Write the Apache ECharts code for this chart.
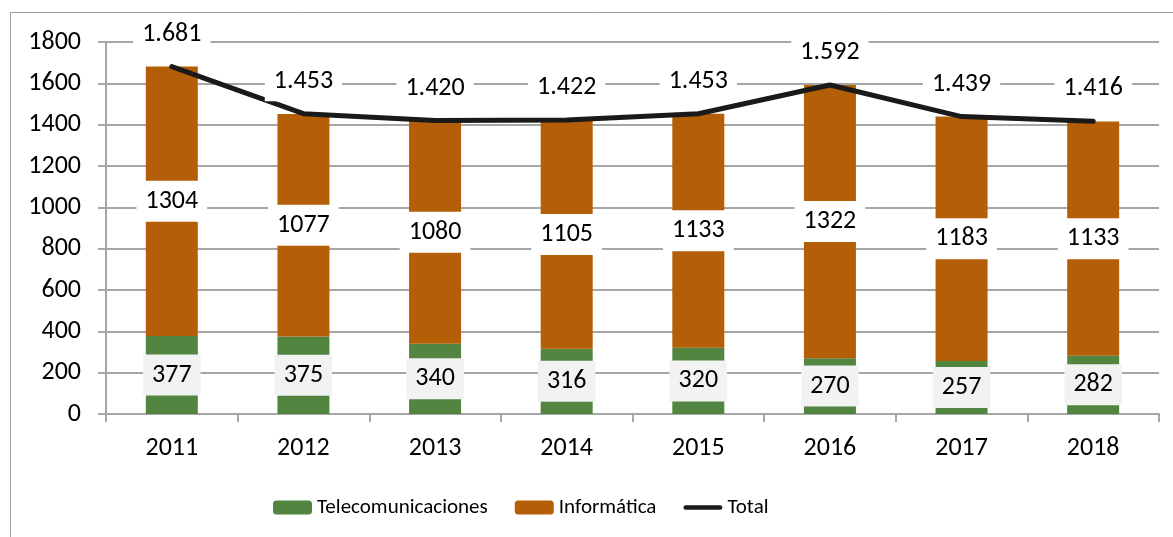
<!DOCTYPE html>
<html>
<head>
<meta charset="utf-8">
<script src="https://cdn.jsdelivr.net/npm/echarts@6/dist/echarts.min.js"></script>
<style>
  html, body { margin: 0; padding: 0; background: #fff; }
  #chart { width: 1173px; height: 537px; }
</style>
</head>
<body>
<div id="chart"></div>
<script>
const years = ['2011', '2012', '2013', '2014', '2015', '2016', '2017', '2018'];
const telecom = [377, 375, 340, 316, 320, 270, 257, 282];
const informatica = [1304, 1077, 1080, 1105, 1133, 1322, 1183, 1133];
const total = [1681, 1453, 1420, 1422, 1453, 1592, 1439, 1416];
const yTicks = [0, 1800, 200];

const FONT = 'Carlito, Lato, sans-serif';
const TXT = '#000';
const NUM = 26;

function fmtThousands(v) {
  return String(v).replace(/\B(?=(\d{3})+(?!\d))/g, '.');
}

const chart = echarts.init(document.getElementById('chart'));
chart.setOption({
  animation: false,
  textStyle: { fontFamily: FONT },
  graphic: [{
    type: 'rect',
    shape: { x: 10.5, y: 12.5, width: 1300, height: 700 },
    style: { fill: 'none', stroke: '#a0a0a0', lineWidth: 1 },
    silent: true
  }],
  grid: { left: 106, right: 14, top: 42, bottom: 123 },
  legend: {
    left: 268,
    top: 492,
    itemWidth: 39,
    itemHeight: 14,
    itemGap: 27,
    textStyle: { fontFamily: FONT, fontSize: 21, color: TXT },
    data: [
      'Telecomunicaciones',
      'Informática',
      { name: 'Total', icon: 'path://M2.5,0 L39.5,0 A2.5,2.5 0 0 1 39.5,5 L2.5,5 A2.5,2.5 0 0 1 2.5,0 Z' }
    ]
  },
  xAxis: {
    type: 'category',
    data: years,
    boundaryGap: true,
    axisLine: { lineStyle: { color: '#a6a6a6', width: 2 } },
    axisTick: { show: true, length: 8, lineStyle: { color: '#a6a6a6', width: 2 } },
    axisLabel: { fontFamily: FONT, fontSize: NUM, color: TXT, margin: 21 }
  },
  yAxis: {
    type: 'value',
    min: yTicks[0],
    max: yTicks[1],
    interval: yTicks[2],
    axisLine: { show: true, lineStyle: { color: '#a6a6a6', width: 2 } },
    axisTick: { show: true, length: 8, lineStyle: { color: '#a6a6a6', width: 2 } },
    splitLine: { lineStyle: { color: '#a6a6a6', width: 2 } },
    axisLabel: { fontFamily: FONT, fontSize: NUM, color: TXT, margin: 25, formatter: v => String(v) }
  },
  series: [
    {
      name: 'Telecomunicaciones',
      type: 'bar',
      stack: 'a',
      barWidth: '39.5%',
      data: telecom,
      itemStyle: { color: '#518540' },
      label: {
        show: true, position: 'inside',
        fontFamily: FONT, fontSize: NUM, color: TXT,
        backgroundColor: '#f2f2f2', padding: [8, 9, 7, 9]
      }
    },
    {
      name: 'Informática',
      type: 'bar',
      stack: 'a',
      data: informatica,
      itemStyle: { color: '#b45e07' },
      label: {
        show: true, position: 'inside',
        fontFamily: FONT, fontSize: NUM, color: TXT,
        backgroundColor: '#ffffff', padding: [8, 9, 7, 9]
      }
    },
    {
      name: 'Total',
      type: 'line',
      data: total,
      symbol: 'circle',
      symbolSize: 1,
      showSymbol: true,
      lineStyle: { color: '#1a1a1a', width: 5, cap: 'round', join: 'round' },
      itemStyle: { color: '#1a1a1a' },
      z: 5,
      label: {
        show: true, position: 'top', distance: 12,
        fontFamily: FONT, fontSize: NUM, color: TXT,
        backgroundColor: '#ffffff', padding: [8, 9, 7, 9],
        formatter: p => fmtThousands(p.value)
      }
    }
  ]
});
</script>
</body>
</html>
